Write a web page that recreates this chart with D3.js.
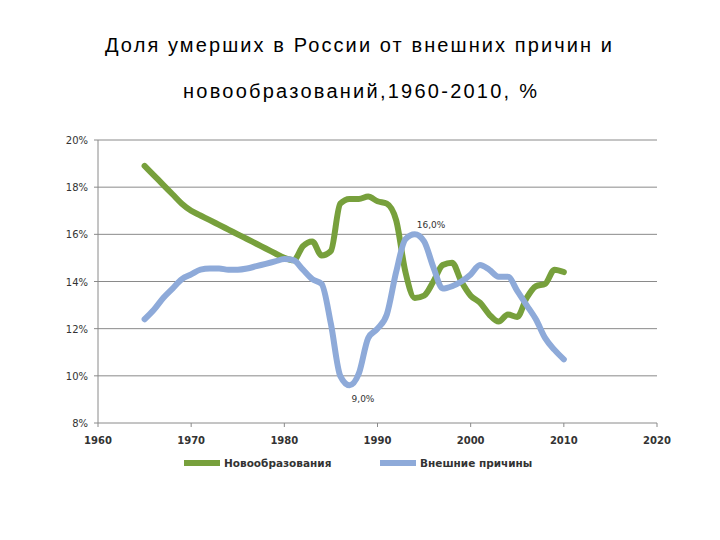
<!DOCTYPE html>
<html><head><meta charset="utf-8">
<script src="https://cdn.jsdelivr.net/npm/d3@7"></script>
<style>body{margin:0;background:#fff}</style>
</head><body><svg id="c" width="720" height="540"></svg>
<script>
const years = d3.range(1965, 2011);
const neoplasms = [18.9,18.5,18.1,17.7,17.3,17.0,16.8,16.6,16.4,16.2,16.0,15.8,15.6,15.4,15.2,15.0,14.9,15.5,15.7,15.1,15.3,17.3,17.5,17.5,17.6,17.4,17.3,16.6,14.4,13.3,13.4,14.0,14.7,14.8,14.0,13.4,13.1,12.6,12.3,12.6,12.5,13.3,13.8,13.9,14.5,14.4];
const external = [12.4,12.8,13.3,13.7,14.1,14.3,14.5,14.55,14.55,14.5,14.5,14.55,14.65,14.75,14.85,14.95,14.9,14.5,14.1,13.9,12.2,10.0,9.6,10.1,11.6,12.0,12.6,14.4,15.8,16.0,15.7,14.6,13.7,13.8,14.0,14.3,14.7,14.5,14.2,14.2,13.6,13.0,12.4,11.6,11.1,10.7];
const seriesNames = ["Новообразования","Внешние причины"];
const colors = ["#77a03c","#8eaad9"];
const xTicks = [1960,1970,1980,1990,2000,2010,2020];
const yTicks = [8,10,12,14,16,18,20];

const svg = d3.select("#c");
const x = d3.scaleLinear().domain([1960,2020]).range([98,657]);
const y = d3.scaleLinear().domain([8,20]).range([423,140]);

svg.append("text").attr("x",105).attr("y",52).attr("textLength",507).attr("lengthAdjust","spacing")
  .attr("font-family","Liberation Sans, Arial").attr("font-size",20).text("Доля умерших в России от внешних причин и");
svg.append("text").attr("x",183).attr("y",98).attr("textLength",354).attr("lengthAdjust","spacing")
  .attr("font-family","Liberation Sans, Arial").attr("font-size",20).text("новообразований,1960-2010, %");

yTicks.forEach(t=>{
  svg.append("line").attr("x1",x(1960)).attr("x2",x(2020)).attr("y1",y(t)).attr("y2",y(t))
    .attr("stroke","#8a8a8a").attr("stroke-width",1);
  svg.append("line").attr("x1",x(1960)-4).attr("x2",x(1960)).attr("y1",y(t)).attr("y2",y(t)).attr("stroke","#8a8a8a");
  svg.append("text").attr("x",x(1960)-10).attr("y",y(t)+4).attr("text-anchor","end")
    .attr("font-family","DejaVu Sans").attr("font-size",10).attr("fill","#333").text(t+"%");
});
svg.append("line").attr("x1",x(1960)).attr("x2",x(1960)).attr("y1",y(20)).attr("y2",y(8)).attr("stroke","#8a8a8a");
xTicks.forEach(t=>{
  svg.append("line").attr("x1",x(t)).attr("x2",x(t)).attr("y1",y(8)).attr("y2",y(8)+4).attr("stroke","#8a8a8a");
  svg.append("text").attr("x",x(t)).attr("y",y(8)+21).attr("text-anchor","middle")
    .attr("font-family","DejaVu Sans").attr("font-size",10).attr("font-weight","bold").attr("fill","#333").text(t);
});

const line = d3.line().x((d,i)=>x(years[i])).y(d=>y(d)).curve(d3.curveMonotoneX);
[neoplasms, external].forEach((s,k)=>{
  svg.append("path").attr("d",line(s)).attr("fill","none").attr("stroke",colors[k])
    .attr("stroke-width",6).attr("stroke-linejoin","round").attr("stroke-linecap","round");
});

svg.append("text").attr("x",x(1994)+2).attr("y",y(16)-6).attr("font-family","DejaVu Sans").attr("font-size",9).attr("fill","#333").text("16,0%");
svg.append("text").attr("x",x(1987)+2).attr("y",y(9.6)+17).attr("font-family","DejaVu Sans").attr("font-size",9).attr("fill","#333").text("9,0%");

[[184,seriesNames[0]],[380,seriesNames[1]]].forEach(([lx,name],k)=>{
  svg.append("line").attr("x1",lx).attr("x2",lx+36).attr("y1",463).attr("y2",463).attr("stroke",colors[k]).attr("stroke-width",6);
  svg.append("text").attr("x",lx+40).attr("y",467).attr("font-family","DejaVu Sans").attr("font-size",10.5).attr("font-weight","bold").attr("fill","#333").text(name);
});
</script></body></html>
